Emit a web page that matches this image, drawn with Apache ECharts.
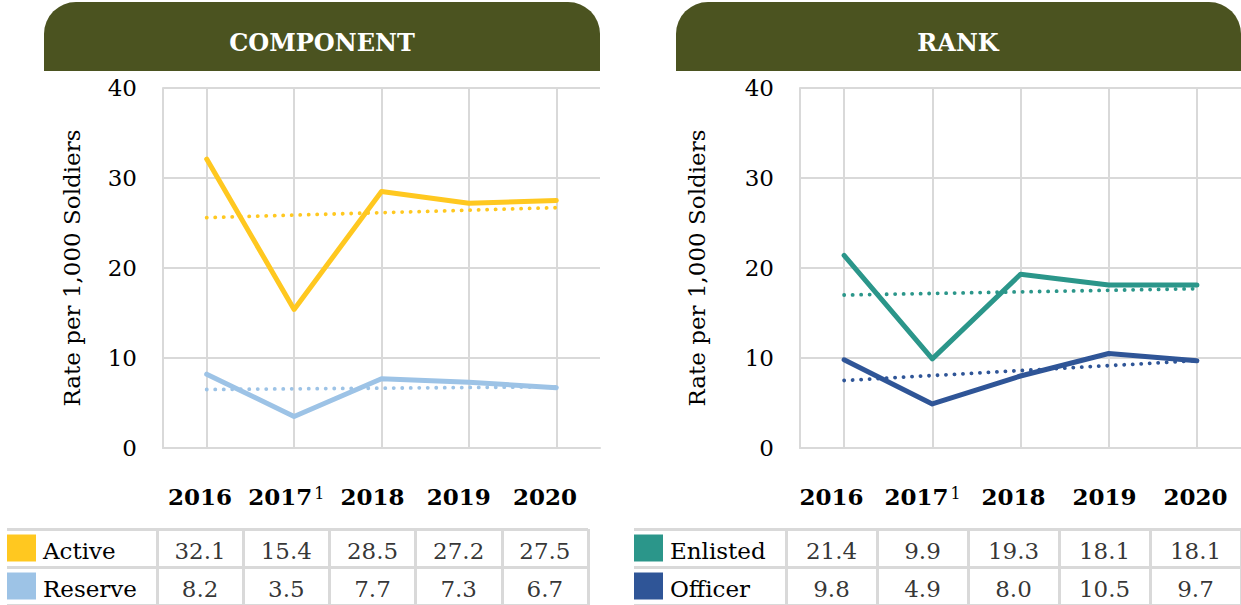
<!DOCTYPE html>
<html>
<head>
<meta charset="utf-8">
<script src="https://cdn.jsdelivr.net/npm/echarts@6/dist/echarts.min.js"></script>
<style>
html, body { margin: 0; padding: 0; background: #fff; }
#main { width: 1241px; height: 605px; }
</style>
</head>
<body>
<div id="main"></div>
<script>
// data
var years = ['2016', '2017', '2018', '2019', '2020']
var compRows = ['Active', 'Reserve']
var rankRows = ['Enlisted', 'Officer']
var active = [32.1, 15.4, 28.5, 27.2, 27.5]
var reserve = [8.2, 3.5, 7.7, 7.3, 6.7]
var enlisted = [21.4, 9.9, 19.3, 18.1, 18.1]
var officer = [9.8, 4.9, 8.0, 10.5, 9.7]
// dotted trend lines, value at 2016 and at 2020
var activeTrend = [25.6, 26.7]
var reserveTrend = [6.5, 6.8]
var enlistedTrend = [17.0, 17.7]
var officerTrend = [7.5, 9.7]

var FONT = '"DejaVu Serif"'
var GRID = '#d9d9d9'
var colors = { active: '#FFC820', reserve: '#9DC3E6', enlisted: '#2B968A', officer: '#2F5597' }

var myChart = echarts.init(document.getElementById('main'), null, { renderer: 'svg' })

function plotX(i) {
    return {
        gridIndex: i, type: 'category', data: years, boundaryGap: true,
        axisLine: { show: true, lineStyle: { color: GRID, width: 2 } },
        // ticks pushed up through the plot act as the vertical grid lines
        axisTick: { show: true, alignWithLabel: true, inside: true, length: 360, lineStyle: { color: GRID, width: 2 } },
        axisLabel: { show: false },
        splitLine: { show: false }
    }
}
function plotY(i, gap) {
    return {
        gridIndex: i, type: 'value', min: 0, max: 40, interval: 10,
        name: 'Rate per 1,000 Soldiers', nameLocation: 'middle', nameGap: gap, nameRotate: 90,
        nameTextStyle: { fontFamily: FONT, fontSize: 23, color: '#000' },
        axisLine: { show: true, lineStyle: { color: GRID, width: 2 } },
        axisTick: { show: false },
        axisLabel: { fontFamily: FONT, fontSize: 23, color: '#000', margin: 26 },
        splitLine: { lineStyle: { color: GRID, width: 2 } }
    }
}
function tableX(i) {
    return {
        gridIndex: i, type: 'category', data: years, position: 'top',
        axisLine: { show: false }, axisTick: { show: false },
        splitLine: { show: true, lineStyle: { color: GRID, width: 3 } },
        axisLabel: {
            margin: 21, interval: 0,
            formatter: function (v) {
                return v === '2017' ? '{b|2017}{s|1}' : '{b|' + v + '}'
            },
            rich: {
                b: { fontFamily: FONT, fontWeight: 'bold', fontSize: 23, color: '#000' },
                s: { fontFamily: FONT, fontSize: 16, color: '#000', verticalAlign: 'top', padding: [0, 0, 6, 2] }
            }
        }
    }
}
function tableY(i, rows, c0, c1, tick) {
    return {
        gridIndex: i, type: 'category', data: rows, inverse: true,
        axisLine: { show: false },
        axisTick: { show: true, length: tick, lineStyle: { color: GRID, width: 3 } },
        splitLine: { show: true, lineStyle: { color: GRID, width: 3 } },
        axisLabel: {
            align: 'left', margin: tick,
            formatter: function (v, idx) { return '{q' + idx + '|}{g|}{t|' + v + '}' },
            rich: {
                q0: { width: 29, height: 27, backgroundColor: c0 },
                q1: { width: 29, height: 27, backgroundColor: c1 },
                g: { width: 7 },
                t: { fontFamily: FONT, fontSize: 23, color: '#000', padding: [5, 0, 0, 0] }
            }
        }
    }
}
function lineSeries(i, data, color) {
    return {
        type: 'line', xAxisIndex: i, yAxisIndex: i, data: data, symbol: 'none', z: 3,
        lineStyle: { width: 5, color: color, cap: 'round', join: 'round' }
    }
}
function trendSeries(i, ends, color) {
    return {
        type: 'line', xAxisIndex: i, yAxisIndex: i, symbol: 'none', z: 4,
        data: [[0, ends[0]], [years.length - 1, ends[1]]],
        lineStyle: { width: 3.8, color: color, type: [0.1, 8.4], cap: 'round' }
    }
}
function cellSeries(i, a, b) {
    var d = []
    a.forEach(function (v, k) { d.push([k, 0, v]) })
    b.forEach(function (v, k) { d.push([k, 1, v]) })
    return {
        type: 'scatter', xAxisIndex: i, yAxisIndex: i, data: d, symbolSize: 1, silent: true,
        itemStyle: { color: 'rgba(0,0,0,0)' },
        label: {
            show: true, position: 'inside', offset: [0, 3], fontFamily: FONT, fontSize: 23, color: '#000',
            formatter: function (p) { return p.value[2].toFixed(1) }
        }
    }
}

var option = {
    animation: false,
    grid: [
        { left: 163, top: 88, width: 437, height: 360 },
        { left: 800, top: 88, width: 441, height: 360 },
        { left: 157, top: 529, width: 431, height: 78 },
        { left: 786, top: 529, width: 459, height: 78 }
    ],
    xAxis: [plotX(0), plotX(1), tableX(2), tableX(3)],
    yAxis: [
        plotY(0, 80), plotY(1, 92),
        tableY(2, compRows, colors.active, colors.reserve, 150),
        tableY(3, rankRows, colors.enlisted, colors.officer, 152)
    ],
    series: [
        lineSeries(0, active, colors.active),
        lineSeries(0, reserve, colors.reserve),
        trendSeries(0, activeTrend, colors.active),
        trendSeries(0, reserveTrend, colors.reserve),
        lineSeries(1, enlisted, colors.enlisted),
        lineSeries(1, officer, colors.officer),
        trendSeries(1, enlistedTrend, colors.enlisted),
        trendSeries(1, officerTrend, colors.officer),
        cellSeries(2, active, reserve),
        cellSeries(3, enlisted, officer)
    ],
    graphic: [
        { type: 'rect', shape: { x: 44, y: 2, width: 556, height: 69, r: [32, 32, 0, 0] }, style: { fill: '#4B5320' } },
        { type: 'text', x: 322, y: 42, style: { text: 'COMPONENT', fill: '#fff', font: 'bold 24px "DejaVu Serif"', align: 'center', verticalAlign: 'middle' } },
        { type: 'rect', shape: { x: 676, y: 2, width: 565, height: 69, r: [32, 32, 0, 0] }, style: { fill: '#4B5320' } },
        { type: 'text', x: 958, y: 42, style: { text: 'RANK', fill: '#fff', font: 'bold 24px "DejaVu Serif"', align: 'center', verticalAlign: 'middle' } }
    ]
}
myChart.setOption(option)
</script>
</body>
</html>
